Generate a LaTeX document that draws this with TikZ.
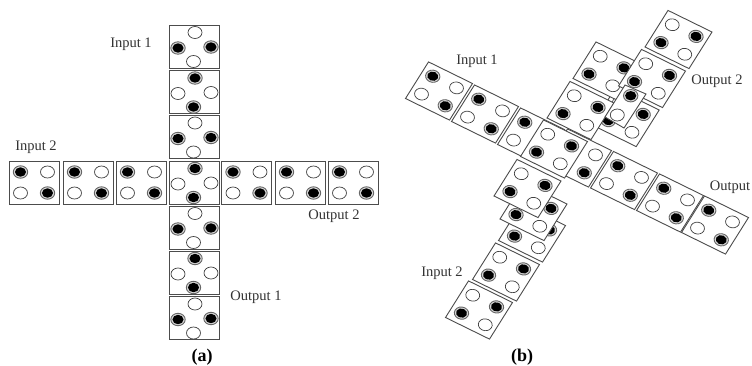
\documentclass[tikz,border=0pt]{standalone}
\usepackage{fontspec}
\setmainfont{Liberation Serif}
\tikzset{
  cellbox/.style={draw=black!70,line width=0.9pt,fill=white},
  pinwhite/.style={draw=black!75,line width=0.7pt,fill=white},
  pinring/.style={draw=black!60,line width=0.9pt,fill=black!15},
  pinblack/.style={fill=black},
  skewed/.style={x={(0.88pt,-0.432pt)},y={(-0.535pt,-0.851pt)}},
  lab/.style={font=\fontsize{14.5}{16}\selectfont,text=black!80,inner sep=0pt},
  figlab/.style={font=\fontsize{18}{20}\selectfont\bfseries,inner sep=0pt}
}
\newcommand{\pinw}[2]{\draw[pinwhite] (#1,#2) ellipse (7 and 6);}
\newcommand{\pinb}[2]{\draw[pinring] (#1,#2) ellipse (7.2 and 6.2);\fill[pinblack] (#1,#2) ellipse (5.6 and 4.7);}
\newcommand{\cellframe}{\draw[cellbox] (-25,-21.5)--(25,-21.5)--(25,21.5)--(-25,21.5)--cycle;}
\newcommand{\gridb}{\cellframe\pinb{-13.5}{-10.5}\pinw{13.5}{-10.5}\pinw{-13.5}{10.5}\pinb{13.5}{10.5}}
\newcommand{\gridw}{\cellframe\pinw{-13.5}{-10.5}\pinb{13.5}{-10.5}\pinb{-13.5}{10.5}\pinw{13.5}{10.5}}
\newcommand{\diamw}{\cellframe\pinw{1}{-14}\pinb{-16}{1.5}\pinb{17}{0.5}\pinw{-0.5}{15}}
\newcommand{\diamb}{\cellframe\pinb{1}{-14}\pinw{-16}{1.5}\pinw{17}{0.5}\pinb{-0.5}{15}}
\begin{document}
\begin{tikzpicture}[x=1pt,y=-1pt]
        \useasboundingbox (0,0) rectangle (752,365);
        \foreach \cx in {34,88,141,246.5,300,353}
            \begin{scope}[shift={(\cx,182.5)}]\gridb\end{scope};
        \foreach \cy in {46.5,137,227.5,318}
            \begin{scope}[shift={(194,\cy)}]\diamw\end{scope};
        \foreach \cy in {92,182.5,272.5}
            \begin{scope}[shift={(194,\cy)}]\diamb\end{scope};
        \foreach \cx/\cy in {439/91,485/114,531/137,578/158,624/180.5,670/203,715/225}
            \begin{scope}[shift={(\cx,\cy)},skewed]\gridb\end{scope};
        \foreach \cx/\cy in {479/310,506/272,532/233,533.5/211.5,625.7/117.5,580.5/110.5,606.5/71,652/78.5,678.5/39.5,527.5/188.5,554/149}
            \begin{scope}[shift={(\cx,\cy)},skewed]\gridw\end{scope};
        \draw[cellbox] (625,85)--(646,94)--(624,128)--(605,117)--cycle;
        \pinb{630.7}{95.7}
        \pinw{617.3}{115}
        \node[lab](ina1) at (131,44) {Input 1};
        \node[lab](ina2) at (36,147) {Input 2};
        \node[lab](outa2) at (334,216) {Output 2};
        \node[lab](outa1) at (256,297) {Output 1};
        \node[figlab](capa) at (202,357) {(a)};
        \node[lab](inb1) at (477,61) {Input 1};
        \node[lab](inb2) at (442,273) {Input 2};
        \node[lab](outb2) at (717,81) {Output 2};
        \node[lab](outb1) at (730,187) {Output};
        \node[figlab](capb) at (522,357) {(b)};
\end{tikzpicture}
\end{document}
